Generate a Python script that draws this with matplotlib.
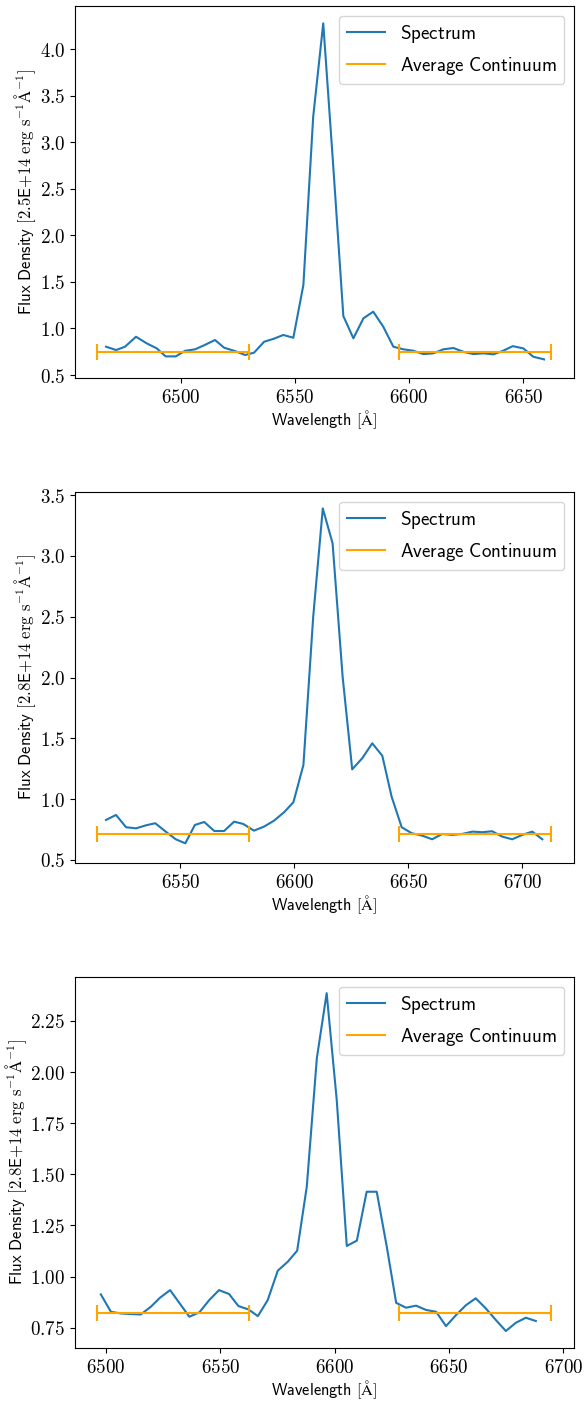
import numpy as np
import matplotlib
matplotlib.use("Agg")
import matplotlib.pyplot as plt
import matplotlib.ticker as ticker
from matplotlib.lines import Line2D

plt.rcParams['mathtext.fontset'] = 'cm'

# ---- data ----
wave_1 = [6467.3, 6471.7, 6475.6, 6480.4, 6485.1, 6489.5, 6493.4, 6497.8, 6501.9, 6506.3,
          6510.3, 6515.0, 6519.0, 6523.8, 6528.2, 6532.1, 6536.5, 6540.8, 6544.9, 6549.3,
          6553.7, 6558.0, 6562.4, 6566.8, 6571.2, 6575.6, 6580.0, 6584.3, 6588.7, 6593.1,
          6597.5, 6601.8, 6606.2, 6610.6, 6615.0, 6619.4, 6623.7, 6628.1, 6632.5, 6636.9,
          6641.2, 6645.4, 6650.0, 6654.4, 6659.1]
flux_1 = [0.804, 0.768, 0.804, 0.911, 0.840, 0.786, 0.700, 0.700, 0.760, 0.776,
          0.820, 0.876, 0.793, 0.757, 0.715, 0.740, 0.857, 0.890, 0.930, 0.900,
          1.466, 3.273, 4.276, 2.736, 1.133, 0.894, 1.109, 1.180, 1.018, 0.804,
          0.776, 0.761, 0.725, 0.733, 0.776, 0.790, 0.750, 0.725, 0.733, 0.722,
          0.761, 0.810, 0.786, 0.696, 0.668]
cont_1 = 0.745
cont_ranges_1 = [(6463.4, 6529.9), (6595.6, 6662.0)]

wave_2 = [6517.4, 6521.8, 6526.2, 6530.6, 6535.0, 6539.0, 6543.6, 6548.0, 6552.2, 6556.4,
          6560.5, 6564.9, 6569.2, 6573.6, 6577.6, 6582.3, 6586.7, 6591.1, 6595.5, 6599.6,
          6604.0, 6608.3, 6612.5, 6616.8, 6621.2, 6625.4, 6629.8, 6634.2, 6638.6, 6642.7,
          6647.1, 6651.5, 6656.1, 6660.5, 6664.9, 6669.3, 6673.7, 6678.1, 6682.5, 6686.8,
          6691.2, 6695.6, 6700.0, 6704.4, 6708.8]
flux_2 = [0.829, 0.870, 0.769, 0.760, 0.785, 0.802, 0.733, 0.670, 0.637, 0.788,
          0.812, 0.738, 0.738, 0.815, 0.796, 0.741, 0.774, 0.823, 0.892, 0.974,
          1.281, 2.500, 3.390, 3.103, 2.007, 1.245, 1.336, 1.459, 1.357, 1.020,
          0.769, 0.720, 0.700, 0.670, 0.714, 0.706, 0.714, 0.733, 0.728, 0.736,
          0.692, 0.670, 0.706, 0.733, 0.670]
cont_2 = 0.714
cont_ranges_2 = [(6513.5, 6580.1), (6645.9, 6712.5)]

wave_3 = [6497.7, 6502.1, 6506.4, 6510.8, 6515.2, 6519.6, 6523.6, 6528.0, 6532.4, 6536.4,
          6540.8, 6545.1, 6549.4, 6553.8, 6557.9, 6562.2, 6566.4, 6570.7, 6575.1, 6579.5,
          6583.6, 6587.8, 6592.2, 6596.5, 6600.9, 6605.3, 6609.7, 6614.0, 6618.4, 6622.8,
          6626.9, 6631.2, 6635.6, 6640.0, 6644.4, 6648.7, 6653.1, 6657.5, 6661.7, 6666.1,
          6670.5, 6674.9, 6679.2, 6683.6, 6688.0]
flux_3 = [0.913, 0.828, 0.820, 0.817, 0.815, 0.853, 0.897, 0.934, 0.866, 0.804,
          0.825, 0.885, 0.934, 0.915, 0.856, 0.840, 0.807, 0.885, 1.029, 1.073,
          1.127, 1.440, 2.068, 2.386, 1.864, 1.150, 1.176, 1.415, 1.415, 1.146,
          0.872, 0.848, 0.858, 0.837, 0.828, 0.758, 0.812, 0.861, 0.894, 0.845,
          0.788, 0.734, 0.774, 0.799, 0.783]
cont_3 = 0.823
cont_ranges_3 = [(6496.1, 6562.6), (6628.2, 6694.5)]

scales = ['2.5E{+}14', '2.8E{+}14', '2.8E{+}14']


def plot_panel(ax, wave, flux, cont, cont_ranges, scale, xlim, ylim, ystep, ydec):
    ax.plot(wave, flux, color='C0', lw=1.5)
    for lo, hi in cont_ranges:
        ax.errorbar((lo + hi) / 2, cont, xerr=(hi - lo) / 2, color='orange',
                    capsize=6, elinewidth=1.5, capthick=1.5)
    ax.set_xlim(xlim)
    ax.set_ylim(ylim)
    ax.xaxis.set_major_locator(ticker.MultipleLocator(50))
    ax.yaxis.set_major_locator(ticker.MultipleLocator(ystep))
    ax.xaxis.set_major_formatter(ticker.FuncFormatter(lambda v, p: r'$%d$' % round(v)))
    ax.yaxis.set_major_formatter(ticker.FuncFormatter(lambda v, p: r'$%.*f$' % (ydec, v)))
    ax.tick_params(labelsize=13.7)
    ax.set_xlabel(r'$\mathsf{Wavelength}\ [\mathrm{\AA}]$', fontsize=11.8, labelpad=1)
    ax.set_ylabel(r'$\mathsf{Flux\ Density\ [' + scale + r'}\ \mathrm{erg\ s^{-1}\AA^{-1}}]$',
                  fontsize=12, labelpad=1)
    handles = [Line2D([], [], color='C0', lw=1.5), Line2D([], [], color='orange', lw=1.5)]
    ax.legend(handles, [r'$\mathsf{Spectrum}$', r'$\mathsf{Average\ Continuum}$'],
              loc='upper right', fontsize=13.7)


W, H = 584, 1401
fig = plt.figure(figsize=(W / 100, H / 100), dpi=100)

def px_axes(left, top, right, bottom):
    return fig.add_axes([left / W, 1 - bottom / H, (right - left) / W, (bottom - top) / H])

ax1 = px_axes(75, 6, 574, 378)
ax2 = px_axes(75, 492, 574, 863)
ax3 = px_axes(75, 977, 574, 1348)

plot_panel(ax1, wave_1, flux_1, cont_1, cont_ranges_1, scales[0],
           (6453.7, 6672.2), (0.468, 4.462), 0.5, 1)
plot_panel(ax2, wave_2, flux_2, cont_2, cont_ranges_2, scales[1],
           (6503.8, 6722.7), (0.475, 3.525), 0.5, 1)
plot_panel(ax3, wave_3, flux_3, cont_3, cont_ranges_3, scales[2],
           (6486.4, 6704.7), (0.651, 2.465), 0.25, 2)

fig.savefig('out.png', dpi=100)
